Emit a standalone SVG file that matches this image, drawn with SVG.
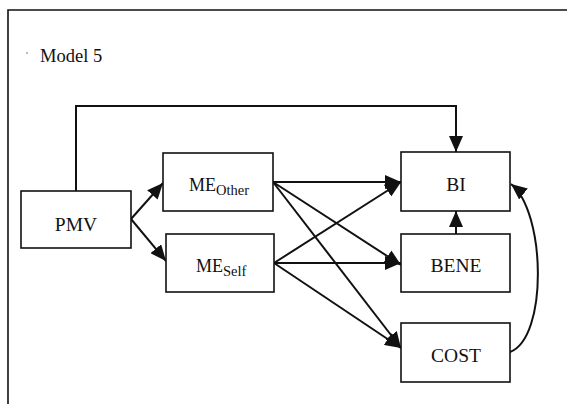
<svg xmlns="http://www.w3.org/2000/svg" width="567" height="404" viewBox="0 0 567 404">
<defs>
<style>
.box{fill:#fff;stroke:#111;stroke-width:1.6}
text{font-family:"Liberation Serif","DejaVu Serif",serif;fill:#111}
.c{fill:none;stroke:#111;stroke-width:2}
</style>
<marker id="ah" markerUnits="userSpaceOnUse" markerWidth="16" markerHeight="14" viewBox="0 0 16 14" refX="16" refY="7" orient="auto">
<path d="M0,0 L16,7 L0,14 Z" fill="#111"/>
</marker>
</defs>
<rect width="567" height="404" fill="#fff"/>
<path d="M8,404 L8,10 L567,10" fill="none" stroke="#111" stroke-width="1.6"/>
<circle cx="27" cy="53" r="0.8" fill="#666"/>
<text font-family="Liberation Serif, DejaVu Serif, serif" x="40" y="62" font-size="18.5">Model 5</text>
<g id="connectors">
<path class="c" d="M76,191 L76,106 L456,106 L456,152" marker-end="url(#ah)"/>
<path class="c" d="M131,219 L163,183" marker-end="url(#ah)"/>
<path class="c" d="M131,219 L166,261" marker-end="url(#ah)"/>
<path class="c" d="M273,182 L401,182" marker-end="url(#ah)"/>
<path class="c" d="M273,182 L401,265" marker-end="url(#ah)"/>
<path class="c" d="M273,182 L401,348" marker-end="url(#ah)"/>
<path class="c" d="M274,263 L401,182" marker-end="url(#ah)"/>
<path class="c" d="M274,263 L401,263" marker-end="url(#ah)"/>
<path class="c" d="M274,263 L401,348" marker-end="url(#ah)"/>
<path class="c" d="M456,234 L456,211" marker-end="url(#ah)"/>
<path class="c" d="M510,352 C548,338 546,212 511,184" marker-end="url(#ah)"/>
</g>
<g id="PMV">
<rect class="box" x="21" y="191" width="110" height="57"/>
<text font-family="Liberation Serif, DejaVu Serif, serif" x="76" y="231" font-size="19.5" text-anchor="middle">PMV</text>
</g>
<g id="ME_Other">
<rect class="box" x="163" y="153" width="110" height="58"/>
<text font-family="Liberation Serif, DejaVu Serif, serif" x="189" y="191" font-size="18">ME<tspan font-size="14.5" dy="4">Other</tspan></text>
</g>
<g id="ME_Self">
<rect class="box" x="166" y="234" width="108" height="58"/>
<text font-family="Liberation Serif, DejaVu Serif, serif" x="196" y="272" font-size="18">ME<tspan font-size="14.5" dy="4">Self</tspan></text>
</g>
<g id="BI">
<rect class="box" x="401" y="152" width="109" height="59"/>
<text font-family="Liberation Serif, DejaVu Serif, serif" x="456" y="191" font-size="19.5" text-anchor="middle">BI</text>
</g>
<g id="BENE">
<rect class="box" x="401" y="234" width="109" height="58"/>
<text font-family="Liberation Serif, DejaVu Serif, serif" x="456" y="272" font-size="19.5" text-anchor="middle">BENE</text>
</g>
<g id="COST">
<rect class="box" x="401" y="323" width="109" height="59"/>
<text font-family="Liberation Serif, DejaVu Serif, serif" x="456" y="362" font-size="19.5" text-anchor="middle">COST</text>
</g>
</svg>
